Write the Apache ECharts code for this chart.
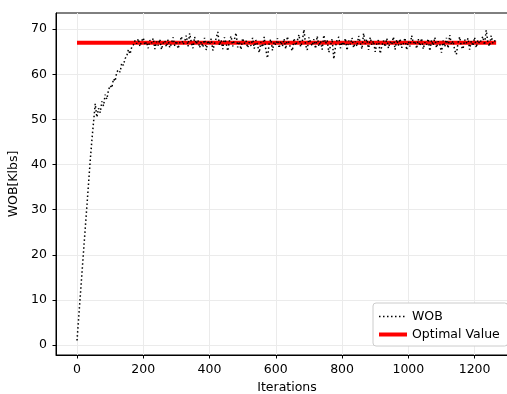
<!DOCTYPE html>
<html>
<head>
<meta charset="utf-8">
<script src="https://cdn.jsdelivr.net/npm/echarts@6/dist/echarts.min.js"></script>
<style>
  html, body { margin: 0; padding: 0; background: #fff; }
  #chart { width: 507px; height: 394px; }
</style>
</head>
<body>
<div id="chart"></div>
<script>
// Weight on bit recorded every 5 iterations
const ITER_STEP = 5;
const wobRamp = [1, 6, 11, 16, 21, 26, 31, 36, 41, 45.5, 49.5];
const wobRise = [53.5, 50.5, 52.5, 51.5, 54, 53, 55.5, 54.5, 56.5, 57.5, 57, 59,
  58.5, 60.5, 61, 60.5, 62.5, 62, 63.5, 64, 65.5, 64.5, 66, 66.5];
const wobSteady = [
  67.5, 66.8, 67.9, 66.2, 67.4, 68.1, 66.5, 67.2, 65.8, 67.6,
  66.9, 68.0, 65.6, 67.3, 66.4, 67.8, 65.5, 66.9, 67.5, 66.1,
  67.7, 65.9, 66.8, 68.2, 66.3, 67.4, 65.7, 67.0, 68.4, 66.6,
  67.3, 68.6, 66.2, 69.1, 67.1, 65.8, 68.3, 66.7, 67.6, 65.9,
  67.2, 66.0, 68.1, 65.4, 67.5, 66.6, 67.9, 65.3, 66.8, 68.0,
  69.4, 66.4, 67.6, 65.6, 68.2, 66.9, 65.2, 67.4, 68.5, 66.2,
  67.7, 69.2, 66.0, 67.3, 65.5, 68.0, 66.8, 67.5, 65.9, 67.1,
  66.3, 68.1, 65.7, 67.6, 66.5, 64.8, 67.2, 66.0, 68.3, 65.4,
  63.6, 66.9, 67.8, 65.3, 67.2, 66.5, 68.0, 65.8, 67.4, 66.2,
  67.9, 65.6, 68.4, 66.7, 67.1, 65.2, 68.0, 66.4, 67.5, 68.8,
  66.1, 67.3, 69.9, 66.5, 65.4, 68.2, 67.0, 66.3, 67.8, 65.7,
  68.5, 66.2, 67.4, 65.5, 68.7, 66.8, 67.6, 64.9, 66.3, 67.9,
  63.4, 66.1, 67.7, 68.3, 65.8, 67.2, 66.4, 68.0, 65.3, 67.5,
  66.6, 68.1, 65.9, 67.3, 66.2, 68.5, 67.0, 65.6, 69.1, 66.7,
  67.8, 65.4, 68.2, 66.5, 67.4, 65.0, 66.9, 67.6, 64.6, 66.3,
  67.5, 66.1, 68.0, 65.8, 67.2, 66.6, 68.3, 65.5, 67.7, 66.4,
  67.9, 65.9, 66.8, 68.1, 65.4, 67.3, 66.2, 68.6, 66.9, 67.4,
  65.7, 67.8, 66.3, 68.0, 65.6, 67.1, 66.5, 67.9, 65.2, 67.6,
  66.4, 68.2, 65.9, 67.3, 66.7, 64.8, 67.5, 66.1, 68.1, 65.8,
  68.7, 66.6, 67.4, 65.3, 64.4, 67.0, 68.3, 66.2, 65.6, 67.7,
  66.9, 68.0, 65.5, 67.4, 66.3, 68.2, 65.9, 67.6, 66.8, 67.2,
  68.4, 66.5, 69.8, 67.1, 66.2, 68.6, 66.9, 67.5, 67.0
];
const optimalValue = 67;
const xTicks = [0, 200, 400, 600, 800, 1000, 1200];
const yTicks = [0, 10, 20, 30, 40, 50, 60, 70];

const wob = wobRamp.concat(wobRise, wobSteady);
const wobPoints = wob.map((v, i) => [i * ITER_STEP, v]);
const lastIter = (wob.length - 1) * ITER_STEP;
const optimalPoints = [[0, optimalValue], [lastIter, optimalValue]];

const FONT = 'DejaVu Sans';
const FS = 12.5;
const gridColor = '#ebebeb';
const wobLine = { color: '#000', width: 1.5, type: [1.5, 2.5] };
const optimalLine = { color: '#ff0000', width: 4 };

const chart = echarts.init(document.getElementById('chart'), null, { renderer: 'canvas' });
chart.setOption({
  animation: false,
  backgroundColor: '#fff',
  textStyle: { fontFamily: FONT },
  grid: {
    left: 56, top: 13, width: 462, height: 342,
    outerBoundsMode: 'none',
    containLabel: false,
    show: true, borderColor: '#000', borderWidth: 1, backgroundColor: 'transparent'
  },
  xAxis: {
    type: 'value', min: -63.4, max: 1331,
    name: 'Iterations', nameLocation: 'middle', nameGap: 26,
    nameTextStyle: { fontFamily: FONT, fontSize: FS, color: '#000' },
    axisLine: { show: true, onZero: false, lineStyle: { color: '#000', width: 1 } },
    axisTick: { show: true, customValues: xTicks, length: 3.5, lineStyle: { color: '#000', width: 1 } },
    axisLabel: {
      customValues: xTicks, fontFamily: FONT, fontSize: FS, color: '#000', margin: 8,
      formatter: v => String(v)
    },
    splitLine: { show: true, lineStyle: { color: gridColor, width: 1 } }
  },
  yAxis: {
    type: 'value', min: -2.2, max: 73.6,
    name: 'WOB[Klbs]', nameLocation: 'middle', nameGap: 31,
    nameTextStyle: { fontFamily: FONT, fontSize: FS, color: '#000' },
    axisLine: { show: true, onZero: false, lineStyle: { color: '#000', width: 1 } },
    axisTick: { show: true, customValues: yTicks, length: 3.5, lineStyle: { color: '#000', width: 1 } },
    axisLabel: {
      customValues: yTicks, fontFamily: FONT, fontSize: FS, color: '#000', margin: 9,
      formatter: v => String(v)
    },
    splitLine: { show: true, lineStyle: { color: gridColor, width: 1 } }
  },
  legend: {
    left: 373, top: 303,
    orient: 'vertical',
    itemWidth: 28, itemHeight: 14, itemGap: 5,
    padding: [7, 8, 5, 4],
    backgroundColor: '#fff',
    borderColor: '#cccccc', borderWidth: 1, borderRadius: 3,
    itemStyle: { opacity: 0 },
    textStyle: { fontFamily: FONT, fontSize: FS, color: '#000' },
    data: [
      { name: 'WOB', lineStyle: wobLine },
      { name: 'Optimal Value', lineStyle: optimalLine }
    ]
  },
  series: [
    {
      name: 'Optimal Value', type: 'line', data: optimalPoints,
      showSymbol: false, symbol: 'none', z: 2,
      lineStyle: optimalLine,
      itemStyle: { color: '#ff0000' }
    },
    {
      name: 'WOB', type: 'line', data: wobPoints,
      showSymbol: false, symbol: 'none', z: 3,
      lineStyle: wobLine,
      itemStyle: { color: '#000' }
    }
  ]
});
</script>
</body>
</html>
